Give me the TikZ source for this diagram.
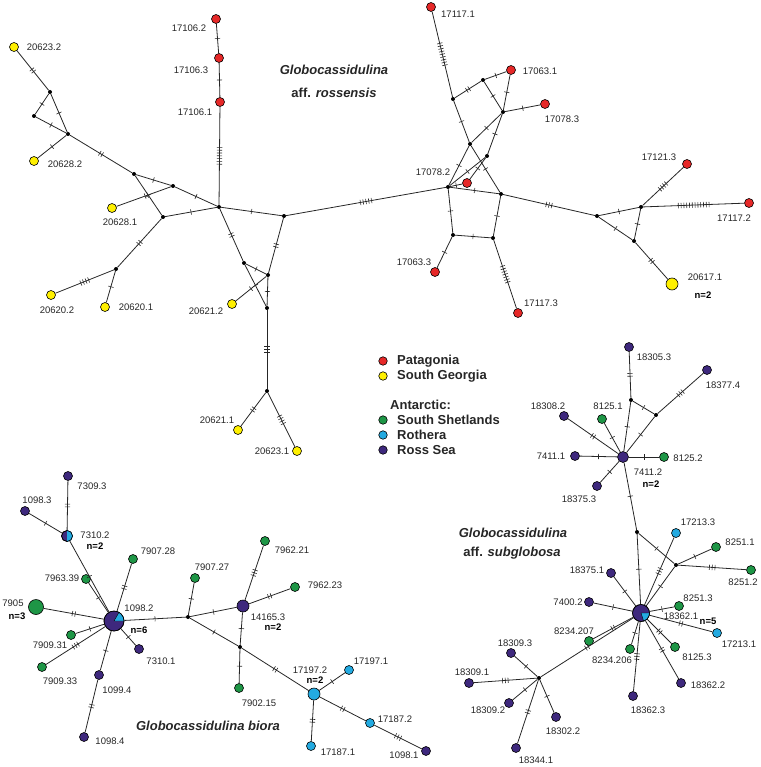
\documentclass[tikz,border=0pt]{standalone}
\usepackage{fontspec}
\setmainfont{Liberation Sans}
\usetikzlibrary{decorations.markings}
\definecolor{pat}{RGB}{230,40,40}
\definecolor{sg}{RGB}{255,240,0}
\definecolor{ss}{RGB}{30,150,70}
\definecolor{ro}{RGB}{35,170,225}
\definecolor{rs}{RGB}{62,40,125}
\newcommand{\tkdraw}[1]{\foreach \i in {1,...,#1}{\pgfmathsetmacro\tkx{(\i-(#1+1)/2)*2.8}\draw[tkline] (\tkx pt,-2.7pt) -- (\tkx pt,2.7pt);}}
\newcommand{\conn}[4][0.5]{\draw[lnk, tickmarks={#1}{#4}] (#2) -- (#3);}
% wedge: node, radius, start angle, end angle (angles counter-clockwise as seen)
\newcommand{\piewedge}[4]{\filldraw[fill=ro,draw=black,line width=0.4pt] (#1.center) \foreach \a in {#3,...,#4}{ -- +({#2*cos(\a)},{-#2*sin(\a)})} -- cycle;}
\tikzset{
  lnk/.style={line width=0.8pt, draw=black!85},
  tkline/.style={line width=0.6pt, draw=black!85},
  tickmarks/.style 2 args={postaction={decorate,decoration={markings,mark=at position #1 with {\tkdraw{#2}}}}},
  hap/.style={circle, draw=black, line width=0.6pt, inner sep=0pt, minimum size=9pt},
  mv/.style={circle, fill=black, inner sep=0pt, minimum size=4pt},
  lab/.style={font=\fontsize{9.5}{10}\selectfont, inner sep=0pt, text=black!85},
  nl/.style={font=\bfseries\fontsize{9.5}{10}\selectfont, inner sep=0pt},
  ttl/.style={font=\bfseries\fontsize{13}{14}\selectfont, inner sep=0pt, text=black!85},
  leg/.style={font=\bfseries\fontsize{13}{14}\selectfont, inner sep=0pt, anchor=west, text=black!85}
}
\begin{document}
\begin{tikzpicture}[x=1pt,y=-1pt]
\useasboundingbox (0,0) rectangle (760,767);
% ---------------- G. aff. rossensis ----------------
\node[hap,fill=sg] (s20623b) at (14,47) {};
\node[mv] (a1) at (50,92) {};
\node[mv] (a2) at (34,116) {};
\node[mv] (a3) at (68,134) {};
\node[hap,fill=sg] (s20628b) at (34,161) {};
\node[mv] (a4) at (134,174) {};
\node[mv] (a5) at (173,186) {};
\node[mv] (a6) at (219,207) {};
\node[mv] (a7) at (163,217) {};
\node[hap,fill=sg] (s20628a) at (112,208) {};
\node[hap,fill=pat] (p17106b) at (216,19) {};
\node[hap,fill=pat] (p17106c) at (219,58) {};
\node[hap,fill=pat] (p17106a) at (220,102) {};
\node[mv] (a8) at (284,216) {};
\node[mv] (a9) at (244,263) {};
\node[mv] (a10) at (268,275) {};
\node[mv] (a11) at (267,308) {};
\node[mv] (a12) at (267,391) {};
\node[mv] (a13) at (116,269) {};
\node[hap,fill=sg] (s20621b) at (232,304) {};
\node[hap,fill=sg] (s20621a) at (238,430) {};
\node[hap,fill=sg] (s20623a) at (297,451) {};
\node[hap,fill=sg] (s20620b) at (51,295) {};
\node[hap,fill=sg] (s20620a) at (105,307) {};
\node[hap,fill=pat] (p17117a) at (431,7) {};
\node[mv] (b1) at (453,99) {};
\node[mv] (b2) at (483,80) {};
\node[mv] (b3) at (503,112) {};
\node[mv] (b4) at (470,144) {};
\node[mv] (b5) at (487,156) {};
\node[mv] (b6) at (448,187) {};
\node[mv] (b7) at (501,194) {};
\node[mv] (b8) at (453,235) {};
\node[mv] (b9) at (493,238) {};
\node[mv] (b10) at (597,216) {};
\node[mv] (b11) at (641,207) {};
\node[mv] (b12) at (634,241) {};
\node[hap,fill=pat] (p17063a) at (511,70) {};
\node[hap,fill=pat] (p17078c) at (545,104) {};
\node[hap,fill=pat] (p17078b) at (467,183) {};
\node[hap,fill=pat] (p17063c) at (435,272) {};
\node[hap,fill=pat] (p17117c) at (518,313) {};
\node[hap,fill=pat] (p17121c) at (687,164) {};
\node[hap,fill=pat] (p17117b) at (749,203) {};
\node[hap,fill=sg,minimum size=12pt] (s20617) at (672,284) {};

\conn{s20623b}{a1}{2}
\conn{a1}{a2}{1}
\conn{a1}{a3}{1}
\conn{a2}{a3}{1}
\conn{a3}{s20628b}{1}
\conn{a3}{a4}{2}
\conn{a4}{a5}{1}
\conn{a4}{a7}{1}
\conn[0.55]{s20628a}{a5}{2}
\conn{a5}{a6}{1}
\conn{a7}{a6}{1}
\conn{a6}{p17106a}{7}
\conn{p17106a}{p17106c}{1}
\conn{p17106c}{p17106b}{1}
\conn{a7}{a13}{2}
\conn{a13}{s20620b}{4}
\conn{a13}{s20620a}{1}
\conn{a6}{a8}{1}
\conn{a6}{a9}{2}
\conn{a9}{a11}{1}
\conn{a9}{a10}{1}
\conn{a8}{a10}{2}
\conn{a10}{a11}{1}
\conn{s20621b}{a10}{1}
\conn{a11}{a12}{3}
\conn{a12}{s20621a}{2}
\conn{a12}{s20623a}{4}
\conn{a8}{b6}{5}
\conn{p17117a}{b1}{9}
\conn{b1}{b2}{2}
\conn{b2}{p17063a}{1}
\conn{b2}{b3}{1}
\conn{p17063a}{b3}{1}
\conn{b3}{p17078c}{1}
\conn{b1}{b4}{1}
\conn{b4}{b7}{1}
\conn{b4}{b3}{1}
\conn{b4}{b6}{1}
\conn{b5}{b3}{1}
\conn{b5}{b6}{1}
\conn{b6}{p17078b}{1}
\conn{p17078b}{b5}{1}
\conn{b6}{b7}{1}
\conn{b6}{b8}{1}
\conn{b8}{b9}{1}
\conn{b9}{b7}{1}
\conn{b8}{p17063c}{1}
\conn{b9}{p17117c}{7}
\conn{b7}{b10}{3}
\conn{b10}{b11}{1}
\conn{b10}{b12}{1}
\conn{b11}{b12}{1}
\conn{b11}{p17121c}{4}
\conn{b11}{p17117b}{12}
\conn{b12}{s20617}{2}

\node[lab] (l20623b) at (44,47) {20623.2};
\node[lab] (l20628b) at (65,164) {20628.2};
\node[lab] (l20628a) at (120,222) {20628.1};
\node[lab] (l17106b) at (189,28) {17106.2};
\node[lab] (l17106c) at (191,70) {17106.3};
\node[lab] (l17106a) at (195,112) {17106.1};
\node[lab] (l20620b) at (57,310) {20620.2};
\node[lab] (l20620a) at (136,307) {20620.1};
\node[lab] (l20621b) at (206,311) {20621.2};
\node[lab] (l20621a) at (217,420) {20621.1};
\node[lab] (l20623a) at (272,451) {20623.1};
\node[lab] (l17117a) at (458,14) {17117.1};
\node[lab] (l17063a) at (540,71) {17063.1};
\node[lab] (l17078c) at (562,119) {17078.3};
\node[lab] (l17078b) at (433,172) {17078.2};
\node[lab] (l17063c) at (414,262) {17063.3};
\node[lab] (l17117c) at (541,303) {17117.3};
\node[lab] (l17121c) at (659,157) {17121.3};
\node[lab] (l17117b) at (734,218) {17117.2};
\node[lab] (l20617) at (705,277) {20617.1};
\node[nl] (n20617) at (703,295) {n=2};
\node[ttl] (t1a) at (334,70) {\itshape Globocassidulina};
\node[ttl] (t1b) at (334,93) {aff. \itshape rossensis};

% ---------------- legend ----------------
\node[hap,fill=pat,minimum size=8.5pt] (g1) at (383,361) {};
\node[leg] (g1t) at (397,361) {Patagonia};
\node[hap,fill=sg,minimum size=8.5pt] (g2) at (383,376) {};
\node[leg] (g2t) at (397,376) {South Georgia};
\node[leg] (g0t) at (390,405) {Antarctic:};
\node[hap,fill=ss,minimum size=8.5pt] (g3) at (383,420) {};
\node[leg] (g3t) at (397,420) {South Shetlands};
\node[hap,fill=ro,minimum size=8.5pt] (g4) at (383,435) {};
\node[leg] (g4t) at (397,435) {Rothera};
\node[hap,fill=rs,minimum size=8.5pt] (g5) at (383,450) {};
\node[leg] (g5t) at (397,450) {Ross Sea};

% ---------------- G. biora ----------------
\node[hap,fill=rs] (r7309c) at (68,476) {};
\node[hap,fill=rs] (r1098c) at (25,511) {};
\node[hap,fill=rs,minimum size=11pt] (n7310b) at (67,536) {};
\node[hap,fill=ss] (g7907h) at (133,559) {};
\node[hap,fill=ss] (g7963) at (86,579) {};
\node[hap,fill=ss,minimum size=15pt] (g7905) at (36,607) {};
\node[hap,fill=rs,minimum size=20pt] (h1) at (114,621) {};
\node[hap,fill=ss] (g7907g) at (195,578) {};
\node[mv] (c1) at (188,617) {};
\node[hap,fill=rs,minimum size=12pt] (r14165) at (243,606) {};
\node[hap,fill=ss] (g7962a) at (265,541) {};
\node[hap,fill=ss] (g7962c) at (295,587) {};
\node[mv] (c2) at (240,647) {};
\node[hap,fill=ss] (g7902) at (239,688) {};
\node[hap,fill=ro,minimum size=12pt] (b17197b) at (314,694) {};
\node[hap,fill=ro] (b17197a) at (349,670) {};
\node[hap,fill=ro] (b17187b) at (370,723) {};
\node[hap,fill=ro] (b17187a) at (311,746) {};
\node[hap,fill=rs] (r1098a) at (426,751) {};
\node[hap,fill=ss] (g7909a) at (71,635) {};
\node[hap,fill=ss] (g7909c) at (42,667) {};
\node[hap,fill=rs] (r7310a) at (139,649) {};
\node[hap,fill=rs] (r1099) at (99,675) {};
\node[hap,fill=rs] (r1098d) at (84,737) {};
\fill[ro] (n7310b.center) \foreach \a in {-90,-80,...,90}{ -- +({5.5*cos(\a)},{-5.5*sin(\a)})} -- cycle;
\draw[line width=0.6pt] (n7310b.center) circle[radius=5.5pt];
\piewedge{h1}{10}{0}{60}
\draw[line width=0.6pt] (h1.center) circle[radius=10pt];

\conn{r7309c}{n7310b}{2}
\conn{r1098c}{n7310b}{1}
\conn{n7310b}{h1}{1}
\conn{g7963}{h1}{1}
\conn{g7907h}{h1}{2}
\conn{g7905}{h1}{2}
\conn{g7909a}{h1}{1}
\conn{g7909c}{h1}{3}
\conn{r7310a}{h1}{1}
\conn{r1099}{h1}{1}
\conn{r1098d}{r1099}{2}
\conn{h1}{c1}{1}
\conn{c1}{g7907g}{1}
\conn{c1}{r14165}{1}
\conn{c1}{c2}{1}
\conn{r14165}{g7962a}{3}
\conn{r14165}{g7962c}{2}
\conn{r14165}{c2}{1}
\conn{c2}{g7902}{1}
\conn{c2}{b17197b}{2}
\conn{b17197b}{b17197a}{1}
\conn{b17197b}{b17187a}{2}
\conn{b17197b}{b17187b}{2}
\conn{b17187b}{r1098a}{3}

\node[lab] (l7309c) at (92,486) {7309.3};
\node[lab] (l1098c) at (37,500) {1098.3};
\node[lab] (l7310b) at (95,535) {7310.2};
\node[nl] (n7310bn) at (95,546) {n=2};
\node[lab] (l7907h) at (158,551) {7907.28};
\node[lab] (l7963) at (62,578) {7963.39};
\node[lab] (l7905) at (13,603) {7905};
\node[nl] (n7905) at (17,616) {n=3};
\node[lab] (l1098b) at (139,608) {1098.2};
\node[nl] (nh1) at (139,630) {n=6};
\node[lab] (l7907g) at (212,567) {7907.27};
\node[lab] (l14165) at (268,617) {14165.3};
\node[nl] (n14165) at (273,627) {n=2};
\node[lab] (l7962a) at (292,550) {7962.21};
\node[lab] (l7962c) at (325,585) {7962.23};
\node[lab] (l7902) at (259,703) {7902.15};
\node[lab] (l17197b) at (310,670) {17197.2};
\node[nl] (n17197b) at (315,680) {n=2};
\node[lab] (l17197a) at (371,661) {17197.1};
\node[lab] (l17187b) at (395,719) {17187.2};
\node[lab] (l17187a) at (338,752) {17187.1};
\node[lab] (l1098a) at (404,755) {1098.1};
\node[lab] (l7909a) at (50,645) {7909.31};
\node[lab] (l7909c) at (60,681) {7909.33};
\node[lab] (l7310a) at (161,661) {7310.1};
\node[lab] (l1099) at (117,690) {1099.4};
\node[lab] (l1098d) at (110,741) {1098.4};
\node[ttl] (t2) at (208,726) {\itshape Globocassidulina biora};

% ---------------- G. aff. subglobosa ----------------
\node[hap,fill=rs] (r18305) at (629,347) {};
\node[hap,fill=rs] (r18377) at (707,370) {};
\node[mv] (d1) at (631,400) {};
\node[mv] (d2) at (656,415) {};
\node[hap,fill=rs] (r18308) at (564,416) {};
\node[hap,fill=ss] (g8125a) at (602,419) {};
\node[hap,fill=rs] (r7411a) at (575,456) {};
\node[hap,fill=rs,minimum size=11pt] (r7411b) at (623,457) {};
\node[hap,fill=ss] (g8125b) at (664,457) {};
\node[hap,fill=rs] (r18375c) at (597,486) {};
\node[mv] (d3) at (637,532) {};
\node[hap,fill=ro] (b17213c) at (676,533) {};
\node[hap,fill=ss] (g8251a) at (716,547) {};
\node[mv] (d4) at (676,565) {};
\node[hap,fill=ss] (g8251b) at (751,570) {};
\node[hap,fill=rs] (r18375a) at (611,573) {};
\node[hap,fill=rs] (r7400) at (589,602) {};
\node[hap,fill=rs,minimum size=17pt] (h2) at (641,613) {};
\node[hap,fill=ss] (g8251c) at (679,606) {};
\node[hap,fill=ro] (b17213a) at (717,633) {};
\node[hap,fill=ss] (g8234b) at (589,641) {};
\node[hap,fill=ss] (g8234a) at (630,649) {};
\node[hap,fill=ss] (g8125c) at (675,647) {};
\node[hap,fill=rs] (r18362b) at (681,683) {};
\node[hap,fill=rs] (r18362c) at (633,696) {};
\node[mv] (d5) at (539,678) {};
\node[hap,fill=rs] (r18309c) at (511,653) {};
\node[hap,fill=rs] (r18309a) at (469,683) {};
\node[hap,fill=rs] (r18309b) at (509,703) {};
\node[hap,fill=rs] (r18302) at (556,717) {};
\node[hap,fill=rs] (r18344) at (516,748) {};
\piewedge{h2}{8.5}{-72}{0}
\draw[line width=0.6pt] (h2.center) circle[radius=8.5pt];

\conn{r18305}{d1}{2}
\conn{d1}{d2}{1}
\conn{d2}{r18377}{3}
\conn{d1}{r7411b}{1}
\conn{d2}{r7411b}{1}
\conn{r18308}{r7411b}{2}
\conn{g8125a}{r7411b}{1}
\conn{r7411a}{r7411b}{1}
\conn{g8125b}{r7411b}{1}
\conn{r18375c}{r7411b}{1}
\conn{r7411b}{d3}{1}
\conn{d3}{h2}{1}
\conn{d3}{d4}{1}
\conn{d4}{g8251a}{1}
\conn{d4}{g8251b}{3}
\conn{d4}{h2}{1}
\conn{b17213c}{h2}{3}
\conn{r18375a}{h2}{1}
\conn{r7400}{h2}{1}
\conn{g8251c}{h2}{1}
\conn{b17213a}{h2}{2}
\conn{g8125c}{h2}{2}
\conn{r18362b}{h2}{2}
\conn{r18362c}{h2}{3}
\conn{g8234a}{h2}{1}
\conn{g8234b}{h2}{2}
\conn{d5}{h2}{2}
\conn{d5}{r18309c}{1}
\conn{d5}{r18309a}{3}
\conn{d5}{r18309b}{1}
\conn{d5}{r18302}{1}
\conn{d5}{r18344}{2}

\node[lab] (l18305) at (654,357) {18305.3};
\node[lab] (l18377) at (723,385) {18377.4};
\node[lab] (l18308) at (548,406) {18308.2};
\node[lab] (l8125a) at (608,406) {8125.1};
\node[lab] (l7411a) at (551,456) {7411.1};
\node[lab] (l7411b) at (648,472) {7411.2};
\node[nl] (n7411b) at (651,484) {n=2};
\node[lab] (l8125b) at (688,458) {8125.2};
\node[lab] (l18375c) at (579,499) {18375.3};
\node[lab] (l17213c) at (698,522) {17213.3};
\node[lab] (l8251a) at (740,542) {8251.1};
\node[lab] (l8251b) at (743,582) {8251.2};
\node[lab] (l18375a) at (587,570) {18375.1};
\node[lab] (l7400) at (568,602) {7400.2};
\node[lab] (l8251c) at (698,598) {8251.3};
\node[lab] (l18362a) at (681,616) {18362.1};
\node[nl] (nh2) at (708,621) {n=5};
\node[lab] (l17213a) at (739,644) {17213.1};
\node[lab] (l8234b) at (574,631) {8234.207};
\node[lab] (l8234a) at (612,660) {8234.206};
\node[lab] (l8125c) at (697,657) {8125.3};
\node[lab] (l18362b) at (708,685) {18362.2};
\node[lab] (l18362c) at (648,710) {18362.3};
\node[lab] (l18309c) at (515,643) {18309.3};
\node[lab] (l18309a) at (472,672) {18309.1};
\node[lab] (l18309b) at (488,710) {18309.2};
\node[lab] (l18302) at (563,731) {18302.2};
\node[lab] (l18344) at (536,760) {18344.1};
\node[ttl] (t3a) at (513,533) {\itshape Globocassidulina};
\node[ttl] (t3b) at (512,553) {aff. \itshape subglobosa};
\end{tikzpicture}
\end{document}
